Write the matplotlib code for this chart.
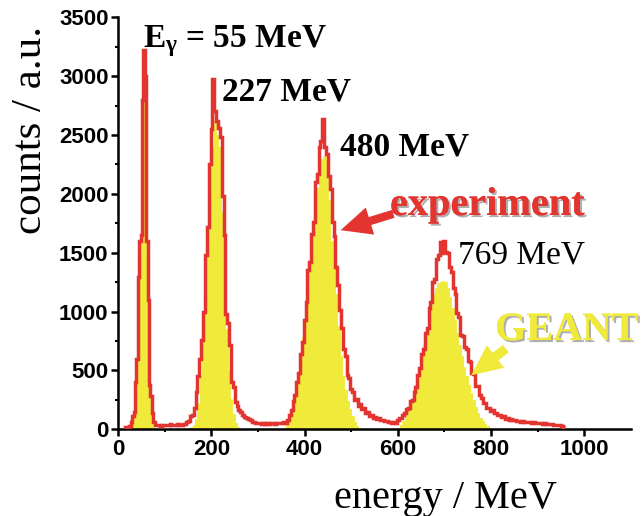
import numpy as np
import matplotlib
matplotlib.use("Agg")
import matplotlib.pyplot as plt
from matplotlib.patches import FancyArrowPatch
import matplotlib.patheffects as pe

# ---------------- data ----------------
# experiment histogram: four contiguous segments (start energy, bin width, counts)
exp_a_start, exp_a_width = 12, 3
exp_a = [15, 20, 22, 22, 25, 65, 110, 150, 400, 600, 1296, 1600, 1650, 2800, 3220,
         3000, 1600, 1100, 380, 280, 140, 65, 40, 38, 35, 40, 32, 38, 35, 40]
exp_b_start, exp_b_width = 102, 4
exp_b = [40, 35, 42, 38, 40, 36, 42, 38, 40, 42, 48, 62, 70, 110, 125, 185, 320, 450,
         600, 760, 1000, 1480, 1720, 2250, 2550, 2980, 2700, 2620, 2560, 2480, 1980,
         1650, 980, 900, 720, 400, 360, 230, 200, 160, 145, 120, 105, 100, 90, 75, 65,
         60, 55, 55]
exp_c_start, exp_c_width = 302, 4
exp_c = [50, 45, 52, 48, 55, 45, 50, 55, 48, 52, 50, 55, 50, 60, 55,
         80, 120, 160, 240, 290, 400, 480, 640, 740, 930, 1080, 1350, 1420, 1660, 1760,
         2100, 2170, 2400, 2450, 2640, 2400, 2340, 2150, 2040, 1760, 1640, 1380, 1230,
         1010, 860, 680, 620, 460, 440, 340, 320, 250, 255, 200, 215, 175, 180, 140,
         150, 115, 120, 95, 105, 85, 92, 75, 80, 68, 72, 62, 66, 55, 60, 52]
exp_d_start, exp_d_width = 598, 4
exp_d = [80, 95, 100, 125, 135, 170, 185, 240, 250, 320, 360, 460, 520, 640, 680, 820,
         860, 1030, 1080, 1250, 1280, 1450, 1480, 1590, 1500, 1600, 1510, 1500, 1380,
         1340, 1200, 1150, 990, 950, 800, 790, 700, 680, 580, 570, 480, 470, 370, 365,
         290, 270, 220, 220, 180, 185, 155, 160, 135, 140, 118, 122, 105, 110, 90, 98,
         82, 86, 75, 80, 70, 74, 66, 70, 62, 66, 58, 62, 55, 60, 52, 56, 50, 54, 48, 50,
         44, 47, 42, 44, 38, 40, 34, 36, 28, 20]

# GEANT simulation histogram segments (start energy, bin width, counts)
gea_a_start, gea_a_width = 24, 3
gea_a = [10, 25, 50, 100, 250, 450, 1100, 1500, 1600, 2700, 3050, 2900, 1500, 900,
         300, 150, 40, 15, 5]
gea_b_start, gea_b_width = 150, 5
gea_b = [10, 20, 40, 90, 220, 450, 750, 1150, 1550, 2050, 2400, 2620, 2500, 2400,
         1850, 1400, 850, 500, 260, 130, 50, 20, 6]
gea_c_start, gea_c_width = 355, 5
gea_c = [15, 40, 90, 170, 260, 360, 480, 600, 780, 980, 1200, 1420, 1650, 1900, 2050,
         2200, 2300, 2320, 2150, 1950, 1600, 1400, 1150, 880, 620, 450, 330, 240, 170,
         110, 60, 30, 10]
gea_d_start, gea_d_width = 600, 5
gea_d = [15, 35, 70, 110, 160, 210, 260, 320, 400, 500, 610, 720, 840, 960, 1060, 1150,
         1200, 1240, 1250, 1260, 1250, 1200, 1120, 1030, 930, 820, 720, 620, 530, 450,
         380, 310, 250, 190, 140, 100, 70, 45, 28, 15, 7, 3]

x_ticks = [0, 200, 400, 600, 800, 1000]
y_ticks = [0, 500, 1000, 1500, 2000, 2500, 3000, 3500]

# ---------------- helpers ----------------
def build(segments):
    edges = []
    counts = []
    for start, width, vals in segments:
        e = start + width * np.arange(len(vals) + 1)
        if edges:
            e = e[1:]
        edges.extend(e.tolist())
        counts.extend(vals)
    return np.array(edges, float), np.array(counts, float)

exp_edges, exp_counts = build([(exp_a_start, exp_a_width, exp_a),
                               (exp_b_start, exp_b_width, exp_b),
                               (exp_c_start, exp_c_width, exp_c),
                               (exp_d_start, exp_d_width, exp_d)])
gea_segments = [(gea_a_start, gea_a_width, gea_a), (gea_b_start, gea_b_width, gea_b),
                (gea_c_start, gea_c_width, gea_c), (gea_d_start, gea_d_width, gea_d)]

RED = "#E3352F"
YEL = "#F0EA3A"
SERIF = ["Liberation Serif", "DejaVu Serif"]

plt.rcParams["mathtext.fontset"] = "custom"
plt.rcParams["mathtext.rm"] = "Liberation Serif:bold"
plt.rcParams["mathtext.bf"] = "Liberation Serif:bold"
plt.rcParams["mathtext.it"] = "Liberation Serif:bold"

fig = plt.figure(figsize=(6.41, 5.16), dpi=100)
W, H = 641.0, 516.0
ax = fig.add_axes([118.3 / W, 1 - 429.3 / H, (630.7 - 118.3) / W, (429.3 - 17.3) / H])

for start, width, vals in gea_segments:
    e = start + width * np.arange(len(vals) + 1)
    ax.stairs(vals, e, fill=True, facecolor=YEL, edgecolor=YEL, linewidth=0.6, zorder=2)

ax.stairs(exp_counts, exp_edges, color=RED, linewidth=2.5, baseline=None, zorder=3)

ax.set_xlim(0, 1100)
ax.set_ylim(0, 3500)
ax.set_xticks(x_ticks)
ax.set_yticks(y_ticks)
ax.set_xticks(np.arange(100, 1100, 200), minor=True)
ax.set_yticks(np.arange(250, 3500, 500), minor=True)
for s in ["top", "right"]:
    ax.spines[s].set_visible(False)
for s in ["left", "bottom"]:
    ax.spines[s].set_linewidth(1.8)
ax.tick_params(which="major", direction="out", length=5, width=1.8, pad=2)
ax.tick_params(which="minor", direction="out", length=2.5, width=1.5)
for lab in ax.get_xticklabels() + ax.get_yticklabels():
    lab.set_fontfamily("Liberation Sans")
    lab.set_fontweight("bold")
    lab.set_fontsize(16)

# axis labels
fig.text(445.5 / W, 1 - 508 / H, "energy / MeV", family=SERIF, fontsize=29,
         ha="center", va="baseline")
fig.text(31 / W, 1 - 130 / H, "counts / a.u.", family=SERIF, fontsize=31,
         rotation=90, ha="center", va="center")

# peak labels
fig.text(143 / W, 1 - 47 / H, r"E$_{\gamma}$ = 55 MeV", family=SERIF, fontsize=24,
         fontweight="bold", ha="left", va="baseline")
fig.text(222 / W, 1 - 100.7 / H, "227 MeV", family=SERIF, fontsize=24,
         fontweight="bold", ha="left", va="baseline")
fig.text(340 / W, 1 - 155 / H, "480 MeV", family=SERIF, fontsize=24,
         fontweight="bold", ha="left", va="baseline")
fig.text(458 / W, 1 - 263 / H, "769 MeV", family=SERIF, fontsize=24,
         ha="left", va="baseline")

shadow = [pe.withSimplePatchShadow(offset=(1.5, -1.5), shadow_rgbFace="#9a9a9a", alpha=0.8),
          pe.Normal()]
fig.text(390 / W, 1 - 215 / H, "experiment", family=SERIF, fontsize=29,
         fontweight="bold", color=RED, ha="left", va="baseline", path_effects=shadow)
fig.text(495 / W, 1 - 340 / H, "GEANT", family=SERIF, fontsize=29,
         fontweight="bold", color=YEL, ha="left", va="baseline", path_effects=shadow)

# arrows
red_arrow = FancyArrowPatch((396 / W, 1 - 213 / H), (338 / W, 1 - 231 / H),
                            transform=fig.transFigure,
                            arrowstyle="simple,head_length=1.3,head_width=1.2,tail_width=0.35",
                            mutation_scale=17, color=RED, linewidth=0, zorder=5)
fig.patches.append(red_arrow)
yel_arrow = FancyArrowPatch((508 / W, 1 - 347 / H), (469 / W, 1 - 377 / H),
                            transform=fig.transFigure,
                            arrowstyle="simple,head_length=1.3,head_width=1.2,tail_width=0.4",
                            mutation_scale=17, color=YEL, linewidth=0, zorder=5)
fig.patches.append(yel_arrow)

fig.savefig("out.png", dpi=100)
